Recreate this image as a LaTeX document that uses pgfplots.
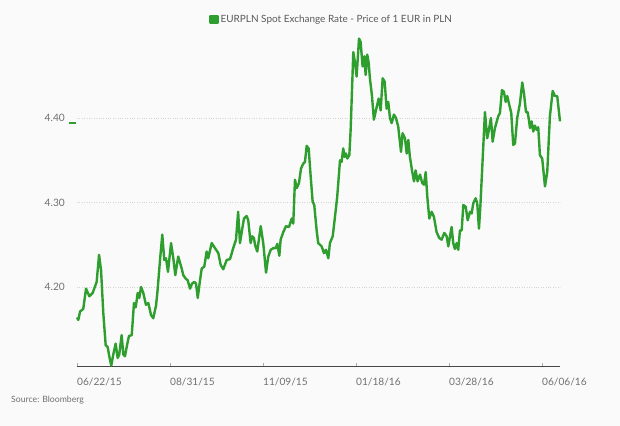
\documentclass[border=0pt]{standalone}
\usepackage{fontspec}
\setmainfont{Lato}
\usepackage{pgfplots}
\pgfplotsset{compat=1.18}

\definecolor{eurgreen}{RGB}{46,158,46}
\definecolor{txtgray}{RGB}{112,112,112}
\definecolor{gridgray}{RGB}{212,212,212}
\definecolor{axisgray}{RGB}{70,70,70}
\definecolor{bg}{RGB}{250,250,250}

% days since 06/22/15, price of 1 EUR in PLN
\pgfplotstableread{
d v
0 4.164
1.0 4.161
2.3 4.171
4.7 4.174
6.8 4.198
9.3 4.189
11.8 4.193
14.8 4.206
16.6 4.238
18.1 4.220
19.8 4.169
21.6 4.131
23.1 4.129
24.3 4.118
25.8 4.107
27.3 4.120
29.1 4.133
30.6 4.116
31.8 4.120
33.6 4.143
34.9 4.120
36.1 4.118
37.4 4.129
39.1 4.142
41.2 4.143
42.9 4.181
44.2 4.176
45.7 4.193
46.9 4.187
48.2 4.200
49.9 4.193
51.9 4.179
53.7 4.181
55.7 4.167
57.4 4.163
59.5 4.178
60.6 4.195
62.5 4.232
64.2 4.262
65.7 4.232
67.0 4.234
68.5 4.218
70.8 4.252
72.5 4.234
74.0 4.214
76.2 4.236
78.8 4.222
80.0 4.214
81.8 4.210
83.3 4.208
85.1 4.198
86.6 4.204
88.3 4.206
89.6 4.204
90.9 4.187
92.6 4.208
93.9 4.222
95.8 4.224
97.6 4.242
98.8 4.234
101.4 4.252
103.9 4.246
106.4 4.240
108.2 4.226
110.1 4.221
112.7 4.232
115.2 4.233
117.6 4.246
119.7 4.256
121.3 4.289
122.7 4.252
124.2 4.267
125.7 4.281
127.7 4.284
128.9 4.279
130.7 4.252
131.9 4.260
133.2 4.258
134.0 4.250
135.7 4.242
138.3 4.272
140.2 4.252
142.3 4.217
144.0 4.236
145.8 4.244
147.8 4.246
149.6 4.246
150.8 4.251
152.3 4.237
153.3 4.256
155.3 4.265
157.3 4.272
159.6 4.271
161.6 4.281
162.8 4.275
164.1 4.327
165.4 4.317
167.1 4.323
168.6 4.340
170.3 4.346
171.6 4.348
172.9 4.367
174.4 4.364
175.9 4.331
177.4 4.301
178.6 4.297
180.4 4.267
181.6 4.252
184.2 4.248
185.9 4.240
187.4 4.244
189.2 4.234
190.4 4.252
192.5 4.260
194.2 4.283
195.9 4.307
198.0 4.350
199.2 4.348
200.4 4.364
201.5 4.354
202.5 4.358
203.5 4.352
205.0 4.356
206.0 4.386
208.0 4.478
209.3 4.465
210.5 4.449
212.3 4.494
213.5 4.490
215.0 4.461
216.3 4.473
217.3 4.451
218.5 4.475
219.6 4.465
220.5 4.447
222.0 4.427
223.5 4.398
225.6 4.413
227.1 4.423
228.6 4.409
230.1 4.447
231.6 4.443
233.1 4.411
234.3 4.419
235.6 4.400
236.9 4.394
238.6 4.404
240.1 4.400
241.8 4.390
243.9 4.360
245.1 4.382
246.9 4.376
248.2 4.358
249.4 4.374
250.6 4.354
252.2 4.338
253.7 4.325
254.9 4.338
256.4 4.325
258.2 4.333
259.9 4.323
261.2 4.321
262.5 4.336
263.7 4.307
265.2 4.281
267.0 4.289
268.7 4.283
270.7 4.265
272.7 4.258
274.5 4.256
276.5 4.264
278.3 4.260
279.5 4.248
280.8 4.260
282.0 4.271
283.2 4.252
284.5 4.245
285.8 4.252
287.0 4.244
288.3 4.267
289.6 4.267
290.8 4.297
292.6 4.295
294.1 4.279
295.8 4.289
297.1 4.287
298.3 4.299
300.1 4.305
301.3 4.299
302.6 4.269
303.7 4.297
307.1 4.407
308.8 4.376
310.1 4.386
311.6 4.400
312.9 4.372
314.6 4.388
317.1 4.402
318.4 4.406
319.9 4.433
321.4 4.431
322.7 4.419
323.9 4.426
325.2 4.417
326.9 4.406
328.4 4.368
329.7 4.370
331.4 4.400
333.4 4.417
335.2 4.442
336.5 4.429
338.0 4.407
339.2 4.407
340.2 4.398
341.0 4.388
342.2 4.396
343.5 4.384
344.7 4.391
346.0 4.386
347.2 4.389
348.5 4.356
350.2 4.352
352.3 4.319
354.0 4.336
356.0 4.402
358.1 4.432
359.8 4.426
361.5 4.426
363.6 4.396
}\eurpln

\begin{document}
\begin{tikzpicture}
\path[use as bounding box, fill=bg] (-77bp,-60bp) rectangle (543bp,366bp);
\begin{axis}[
    at={(0,0)}, anchor=south west,
    width=483bp, height=332.5bp,
    scale only axis,
    xmin=0, xmax=363.6,
    ymin=4.1065, ymax=4.50,
    clip=false,
    axis x line*=bottom, axis y line*=left,
    x axis line style={-, draw=axisgray, line width=1bp},
    y axis line style={draw=none},
    xtick={0,70,140,210,280,350},
    xticklabels={06/22/15,08/31/15,11/09/15,01/18/16,03/28/16,06/06/16},
    ytick={4.2,4.3,4.4},
    /pgf/number format/assume math mode=true,
    y tick label style={/pgf/number format/fixed,
        /pgf/number format/fixed zerofill,
        /pgf/number format/precision=2},
    tick label style={font=\fontsize{10.2}{12}\selectfont, text=txtgray},
    xticklabel style={anchor=north west, inner sep=0pt, yshift=-12bp},
    yticklabel style={anchor=east, inner sep=0pt, xshift=-12bp},
    tick align=inside,
    major tick length=3bp,
    xtick style={draw=gridgray!80!black, line width=0.6bp},
    ytick style={draw=none},
    ymajorgrids,
    grid style={draw=gridgray, dotted, line width=0.8bp},
    legend style={at={(0.2733,1.042)}, anchor=west, draw=none, fill=none,
        inner sep=0pt, font=\fontsize{10}{12}\selectfont, text=txtgray!80!black},
    legend image code/.code={\fill[eurgreen] (0bp,-3.5bp) rectangle (7bp,3.5bp);},
]
\addplot[eurgreen, line width=2.4bp, line join=round] table[x=d, y=v] {\eurpln};
\addlegendentry{EURPLN Spot Exchange Rate - Price of 1 EUR in PLN}
% last price marker beside the value axis
\addplot[eurgreen, line width=1.8bp, forget plot] coordinates {(-6,4.394) (-0.6,4.394)};
\end{axis}
\node[anchor=west, inner sep=0pt, font=\fontsize{8.7}{10}\selectfont, text=txtgray]
    at (-66bp,-34bp) {Source: Bloomberg};
\end{tikzpicture}
\end{document}
